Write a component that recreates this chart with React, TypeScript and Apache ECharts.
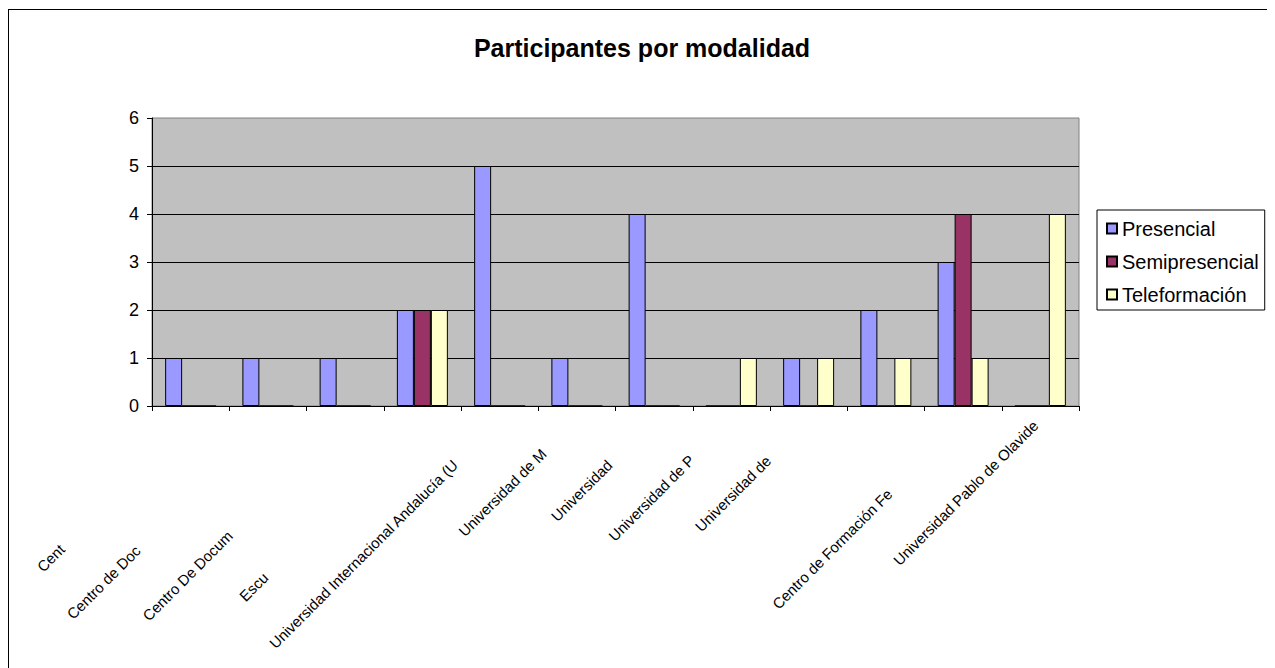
import React, { useEffect, useRef } from 'react';
import * as echarts from 'echarts';

// Category labels as they appear (truncated) in the reference
const categories = [
  'Cent',
  'Centro de Doc',
  'Centro De Docum',
  'Escu',
  'Universidad Internacional Andalucía (U',
  'Universidad de M',
  'Universidad',
  'Universidad de P',
  'Universidad de',
  '',
  'Centro de Formación Fe',
  'Universidad Pablo de Olavide',
];

const seriesNames = ['Presencial', 'Semipresencial', 'Teleformación'];
const presencial = [1, 1, 1, 2, 5, 1, 4, 0, 1, 2, 3, 0];
const semipresencial = [0, 0, 0, 2, 0, 0, 0, 0, 0, 0, 4, 0];
const teleformacion = [0, 0, 0, 2, 0, 0, 0, 1, 1, 1, 1, 4];
const seriesColors = ['#9999FF', '#993366', '#FFFFCC'];

const yMin = 0;
const yMax = 6;
const yStep = 1;

export default function App() {
  const ref = useRef<HTMLDivElement>(null);

  useEffect(() => {
    if (!ref.current) return;
    const chart = echarts.init(ref.current, null, { renderer: 'svg' });
    const font = 'Arial, "Liberation Sans", sans-serif';
    // distance (px) each rotated label's end sits away from its tick, as in the reference
    const labelShift = [182, 184, 163, 222, 63, 47, 63, 56, 57, 0, 104, 7];
    const values = [presencial, semipresencial, teleformacion];

    chart.setOption({
      animation: false,
      backgroundColor: '#ffffff',
      textStyle: { fontFamily: font },
      title: {
        text: 'Participantes por modalidad',
        left: 'center',
        top: 20,
        textStyle: { fontSize: 25, fontWeight: 'bold', color: '#000', fontFamily: font },
      },
      legend: {
        orient: 'vertical',
        left: 1088,
        top: 200,
        padding: [8, 6, 5, 9],
        itemGap: 12,
        itemWidth: 10,
        itemHeight: 10,
        borderColor: '#000',
        borderWidth: 1,
        icon: 'rect',
        textStyle: { fontSize: 20, color: '#000', lineHeight: 21, fontFamily: font },
        data: seriesNames,
      },
      grid: {
        left: 143,
        top: 108,
        right: 196,
        bottom: 263,
        show: true,
        backgroundColor: '#C0C0C0',
        borderColor: '#808080',
        borderWidth: 1,
        containLabel: false,
        outerBoundsMode: 'none',
      },
      xAxis: {
        type: 'category',
        data: categories.map((c, i) => ({
          value: c,
          textStyle: { padding: [0, labelShift[i], 0, 0] },
        })),
        axisLine: { show: true, lineStyle: { color: '#000', width: 1 } },
        axisTick: { show: true, length: 5, lineStyle: { color: '#000' } },
        axisLabel: {
          interval: 0,
          rotate: 45,
          margin: 12,
          fontSize: 15,
          color: '#000',
          fontFamily: font,
          hideOverlap: false,
        },
        splitLine: { show: false },
      },
      yAxis: {
        type: 'value',
        min: yMin,
        max: yMax,
        interval: yStep,
        axisLine: { show: true, lineStyle: { color: '#000', width: 1 } },
        axisTick: { show: true, length: 5, lineStyle: { color: '#000' } },
        axisLabel: { fontSize: 18, color: '#000', margin: 13, fontFamily: font },
        splitLine: {
          show: true,
          showMinLine: false,
          showMaxLine: false,
          lineStyle: { color: '#000', width: 1 },
        },
      },
      series: seriesNames.map((name, i) => ({
        name,
        type: 'bar',
        data: values[i],
        barGap: '0%',
        barCategoryGap: '34%',
        itemStyle: { color: seriesColors[i], borderColor: '#000', borderWidth: 1 },
      })),
    });

    return () => chart.dispose();
  }, []);

  return (
    <div
      ref={ref}
      style={{ width: 1266, height: 659, border: '1px solid #000', marginTop: 1 }}
    />
  );
}
